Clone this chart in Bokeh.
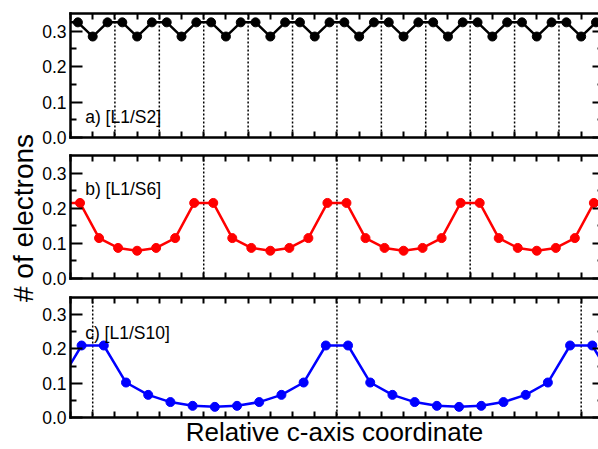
from math import pi
from bokeh.plotting import figure
from bokeh.models import (Range1d, LinearAxis, FixedTicker, PrintfTickFormatter,
                          CustomJSTickFormatter, Span, Label)
from bokeh.layouts import row, column
from bokeh.embed import file_html
from bokeh.resources import INLINE

# ---------------- data ----------------
x_ticks = list(range(0, 24))
y_ticks = [0.0, 0.1, 0.2, 0.3]
y_minor = [0.05, 0.15, 0.25]

# a) [L1/S2]
x_a = [-0.333, 0.333, 1.0, 1.667, 2.333, 3.0, 3.667, 4.333, 5.0, 5.667, 6.333, 7.0,
       7.667, 8.333, 9.0, 9.667, 10.333, 11.0, 11.667, 12.333, 13.0, 13.667, 14.333,
       15.0, 15.667, 16.333, 17.0, 17.667, 18.333, 19.0, 19.667, 20.333, 21.0, 21.667,
       22.333, 23.0, 23.667, 24.333]
y_a = [0.325, 0.325, 0.285, 0.325, 0.325, 0.285, 0.325, 0.325, 0.285, 0.325, 0.325, 0.285,
       0.325, 0.325, 0.285, 0.325, 0.325, 0.285, 0.325, 0.325, 0.285, 0.325, 0.325,
       0.285, 0.325, 0.325, 0.285, 0.325, 0.325, 0.285, 0.325, 0.325, 0.285, 0.325,
       0.325, 0.285, 0.325, 0.325]
dots_a = [2, 4, 6, 8, 10, 12, 14, 16, 18, 20, 22]

# b) [L1/S6]
x_b = [-0.429, 0.429, 1.286, 2.143, 3.0, 3.857, 4.714, 5.571, 6.429, 7.286, 8.143, 9.0,
       9.857, 10.714, 11.571, 12.429, 13.286, 14.143, 15.0, 15.857, 16.714, 17.571,
       18.429, 19.286, 20.143, 21.0, 21.857, 22.714, 23.571, 24.429]
y_b = [0.215, 0.215, 0.115, 0.087, 0.079, 0.087, 0.115, 0.215, 0.215, 0.115, 0.087, 0.079,
       0.087, 0.115, 0.215, 0.215, 0.115, 0.087, 0.079, 0.087, 0.115, 0.215,
       0.215, 0.115, 0.087, 0.079, 0.087, 0.115, 0.215, 0.215]
dots_b = [6, 12, 18]

# c) [L1/S10]
x_c = [-0.5, 0.5, 1.5, 2.5, 3.5, 4.5, 5.5, 6.5, 7.5, 8.5, 9.5, 10.5, 11.5, 12.5, 13.5,
       14.5, 15.5, 16.5, 17.5, 18.5, 19.5, 20.5, 21.5, 22.5, 23.5, 24.5]
y_c = [0.102, 0.21, 0.21, 0.102, 0.066, 0.045, 0.034, 0.031, 0.034, 0.045, 0.066, 0.102,
       0.21, 0.21, 0.102, 0.066, 0.045, 0.034, 0.031, 0.034, 0.045, 0.066, 0.102, 0.21,
       0.21, 0.102]
dots_c = [1, 12, 23]

labels = ["a) [L1/S2]", "b) [L1/S6]", "c) [L1/S10]"]
y_title = "# of electrons"
x_title = "Relative c-axis coordinate"

# ---------------- style ----------------
FONT = "Liberation Sans"
X_END = 23.78
Y_MAX = 0.35
PANEL_W = 560
STRIP_W = 38
BORDER_L = 32
TOTAL_H = 449


def hidden_axis(ticker, tick_in, minor_in=0, line=True):
    ax = LinearAxis(ticker=ticker, formatter=CustomJSTickFormatter(code="return '';"))
    ax.major_label_text_font_size = "1px"
    ax.major_label_standoff = 0
    ax.major_tick_in = tick_in
    ax.major_tick_out = 0
    ax.minor_tick_in = minor_in
    ax.minor_tick_out = 0
    ax.major_tick_line_width = 2
    ax.minor_tick_line_width = 2
    ax.major_tick_line_color = "black"
    ax.minor_tick_line_color = "black"
    if line:
        ax.axis_line_width = 2.5
        ax.axis_line_color = "black"
        ax.axis_line_cap = "square"
    else:
        ax.axis_line_color = None
    return ax


def make_panel(xs, ys, color, dots, label, label_y, height, top, bottom, xlabel=None):
    p = figure(width=PANEL_W, height=height, x_range=Range1d(0, X_END),
               y_range=Range1d(0, Y_MAX), output_backend="svg", toolbar_location=None,
               x_axis_location=None, y_axis_location=None,
               min_border_left=BORDER_L, min_border_right=0,
               min_border_top=top, min_border_bottom=bottom)
    p.outline_line_color = None
    p.grid.visible = False

    left = LinearAxis(ticker=FixedTicker(ticks=y_ticks, minor_ticks=y_minor),
                      formatter=PrintfTickFormatter(format="%.1f"))
    left.major_tick_in = 12
    left.major_tick_out = 0
    left.minor_tick_in = 6
    left.minor_tick_out = 0
    left.major_tick_line_width = 2
    left.minor_tick_line_width = 2
    left.major_tick_line_color = "black"
    left.minor_tick_line_color = "black"
    left.axis_line_width = 2.5
    left.axis_line_color = "black"
    left.axis_line_cap = "square"
    left.major_label_text_font = FONT
    left.major_label_text_font_size = "17.5px"
    left.major_label_text_color = "black"
    left.major_label_standoff = 4
    p.add_layout(left, "left")

    p.add_layout(hidden_axis(FixedTicker(ticks=y_ticks, minor_ticks=y_minor), 6, 1, line=False), "right")
    p.add_layout(hidden_axis(FixedTicker(ticks=x_ticks, minor_ticks=[]), 6), "above")
    bottom_ax = hidden_axis(FixedTicker(ticks=x_ticks, minor_ticks=[]), 6)
    if xlabel is not None:
        bottom_ax.axis_label = xlabel
        bottom_ax.axis_label_text_font = FONT
        bottom_ax.axis_label_text_font_size = "26px"
        bottom_ax.axis_label_text_font_style = "normal"
        bottom_ax.axis_label_text_color = "black"
        bottom_ax.axis_label_standoff = -1
    p.add_layout(bottom_ax, "below")

    for d in dots:
        p.add_layout(Span(location=d, dimension="height", line_color="black",
                          line_width=1.5, line_dash="2 2", level="underlay"))

    p.line(xs, ys, line_color=color, line_width=2.5)
    p.scatter(xs, ys, size=9, fill_color=color, line_color=color)

    p.add_layout(Label(x=0.66, y=label_y, text=label, text_font=FONT,
                       text_font_size="17.5px", text_color="black",
                       text_baseline="alphabetic", text_align="left"))
    return p


pa = make_panel(x_a, y_a, "black", dots_a, labels[0], 0.0565, 148, 13, 11)
pb = make_panel(x_b, y_b, "#ff0000", dots_b, labels[1], 0.256, 141, 7, 11)
pc = make_panel(x_c, y_c, "#0000ff", dots_c, labels[2], 0.246, 160, 8, 2, xlabel=x_title)

# y-axis title strip
lf = figure(width=STRIP_W, height=TOTAL_H, x_range=Range1d(0, 1), y_range=Range1d(0, 1),
            output_backend="svg", toolbar_location=None, min_border=0,
            x_axis_location=None, y_axis_location=None)
lf.outline_line_color = None
lf.grid.visible = False
lf.add_layout(Label(x=0.618, y=0.5156, text=y_title, angle=pi / 2, text_font=FONT,
                    text_font_size="28px", text_color="black", text_align="center",
                    text_baseline="middle"))

col = column(pa, pb, pc, spacing=0)
layout = row(lf, col, spacing=0)

open("out.html", "w").write(file_html(layout, INLINE))
